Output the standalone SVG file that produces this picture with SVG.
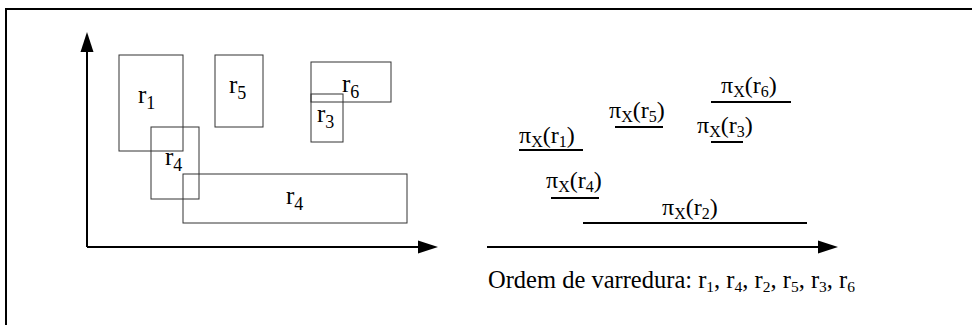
<svg xmlns="http://www.w3.org/2000/svg" width="972" height="325" viewBox="0 0 972 325">
<defs>
<style>
.frame{fill:none;stroke:#000;stroke-width:2}
.box{fill:none;stroke:#333;stroke-width:1}
.axis{fill:none;stroke:#000;stroke-width:2}
.proj{fill:none;stroke:#000;stroke-width:2}
.lbl{font-family:"Liberation Serif",serif;font-size:25px;fill:#000}
.sub{font-size:18px}
.pl{font-family:"Liberation Serif",serif;font-size:24px;fill:#000}
.ps{font-size:16px}
.ord{font-family:"Liberation Serif",serif;font-size:24.5px;fill:#000}
.os{font-size:15.5px}
</style>
</defs>
<rect x="0" y="0" width="972" height="325" fill="#fff"/>
<rect class="frame" x="6" y="9" width="980" height="330"/>
<g id="connectors">
<line class="axis" x1="87" y1="247" x2="87" y2="50"/>
<polygon points="87,32 80.5,52 93.5,52" fill="#000"/>
<line class="axis" x1="87" y1="247" x2="420" y2="247"/>
<polygon points="438,247 418,240.5 418,253.5" fill="#000"/>
<line class="axis" x1="487" y1="247" x2="820" y2="247"/>
<polygon points="838,247 818,240.5 818,253.5" fill="#000"/>
</g>
<g id="r1"><rect class="box" x="119" y="55" width="64" height="96"/><text class="lbl" x="138" y="103">r<tspan class="sub" dy="6">1</tspan></text></g>
<g id="r4a"><rect class="box" x="151" y="127" width="48" height="72"/><text class="lbl" x="165" y="165">r<tspan class="sub" dy="6">4</tspan></text></g>
<g id="r5"><rect class="box" x="215" y="55" width="48" height="72"/><text class="lbl" x="229" y="93">r<tspan class="sub" dy="6">5</tspan></text></g>
<g id="r6"><rect class="box" x="311" y="62" width="80" height="40"/><text class="lbl" x="342" y="92">r<tspan class="sub" dy="6">6</tspan></text></g>
<g id="r3"><rect class="box" x="311" y="94" width="32" height="48"/><text class="lbl" x="317" y="122">r<tspan class="sub" dy="6">3</tspan></text></g>
<g id="r4b"><rect class="box" x="183" y="174" width="224" height="49"/><text class="lbl" x="286" y="204">r<tspan class="sub" dy="6">4</tspan></text></g>
<g id="p1"><line class="proj" x1="519" y1="150" x2="583" y2="150"/><text class="pl" x="519" y="143">π<tspan class="ps" dy="4">X</tspan><tspan dy="-4">(r</tspan><tspan class="ps" dy="4">1</tspan><tspan dy="-4">)</tspan></text></g>
<g id="p4"><line class="proj" x1="551" y1="198" x2="599" y2="198"/><text class="pl" x="546" y="188">π<tspan class="ps" dy="4">X</tspan><tspan dy="-4">(r</tspan><tspan class="ps" dy="4">4</tspan><tspan dy="-4">)</tspan></text></g>
<g id="p2"><line class="proj" x1="583" y1="223" x2="807" y2="223"/><text class="pl" x="662" y="215">π<tspan class="ps" dy="4">X</tspan><tspan dy="-4">(r</tspan><tspan class="ps" dy="4">2</tspan><tspan dy="-4">)</tspan></text></g>
<g id="p5"><line class="proj" x1="615" y1="127" x2="663" y2="127"/><text class="pl" x="609" y="118">π<tspan class="ps" dy="4">X</tspan><tspan dy="-4">(r</tspan><tspan class="ps" dy="4">5</tspan><tspan dy="-4">)</tspan></text></g>
<g id="p3"><line class="proj" x1="711" y1="142" x2="743" y2="142"/><text class="pl" x="697" y="133">π<tspan class="ps" dy="4">X</tspan><tspan dy="-4">(r</tspan><tspan class="ps" dy="4">3</tspan><tspan dy="-4">)</tspan></text></g>
<g id="p6"><line class="proj" x1="711" y1="102" x2="791" y2="102"/><text class="pl" x="721" y="93">π<tspan class="ps" dy="4">X</tspan><tspan dy="-4">(r</tspan><tspan class="ps" dy="4">6</tspan><tspan dy="-4">)</tspan></text></g>
<g id="order"><text class="ord" x="488" y="288">Ordem de varredura: r<tspan class="os" dy="4">1</tspan><tspan dy="-4">, r</tspan><tspan class="os" dy="4">4</tspan><tspan dy="-4">, r</tspan><tspan class="os" dy="4">2</tspan><tspan dy="-4">, r</tspan><tspan class="os" dy="4">5</tspan><tspan dy="-4">, r</tspan><tspan class="os" dy="4">3</tspan><tspan dy="-4">, r</tspan><tspan class="os" dy="4">6</tspan></text></g>
</svg>
